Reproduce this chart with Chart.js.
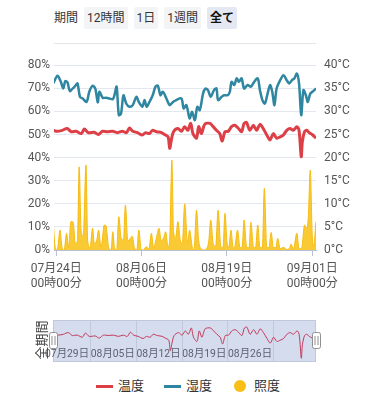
<!DOCTYPE html>
<html lang="ja">
<head>
<meta charset="utf-8">
<script src="https://cdn.jsdelivr.net/npm/chart.js@4.4.1/dist/chart.umd.min.js"></script>
<style>
  body { margin: 0; background: #fff; font-family: Roboto, 'Noto Sans CJK JP', sans-serif; }
  #wrap { position: relative; width: 375px; height: 400px; overflow: hidden; }
  .period { position: absolute; top: 7px; left: 54px; display: flex; font-size: 12px; color: #333; }
  .period span { margin-right: 6px; line-height: 22px; }
  .period .btn { background: #f3f4f6; padding: 0 3px; border-radius: 2px; }
  .period .btn.on { background: #e3e8f3; font-weight: bold; color: #111; }
  .rule { position: absolute; top: 43px; left: 54px; width: 262px; height: 1px; background: #e6e6e6; }
  #main { position: absolute; top: 50px; left: 0; }
  #slider { position: absolute; top: 318px; left: 0; }
  .zname { position: absolute; left: 40px; top: 340px; transform: translate(-50%, -50%) rotate(-90deg);
           font-size: 13px; color: #444; white-space: nowrap; }
  .lg { position: absolute; font-size: 13px; color: #333; line-height: 16px; top: 378px; }
  .mark { position: absolute; }
</style>
</head>
<body>
<div id="wrap">
  <div class="period">
    <span>期間</span>
    <span class="btn">12時間</span>
    <span class="btn">1日</span>
    <span class="btn">1週間</span>
    <span class="btn on">全て</span>
  </div>
  <div class="rule"></div>
  <canvas id="main" width="375" height="250"></canvas>
  <canvas id="slider" width="375" height="46"></canvas>
  <div class="zname">全期間</div>

  <div class="mark" style="left:96px;top:385px;width:17px;height:3px;background:#dd3f46"></div>
  <div class="lg" style="left:118px">温度</div>
  <div class="mark" style="left:164px;top:385px;width:17px;height:3px;background:#2f86a0"></div>
  <div class="lg" style="left:186px">湿度</div>
  <div class="mark" style="left:234px;top:380px;width:12px;height:12px;border-radius:50%;background:#f9bf16"></div>
  <div class="lg" style="left:254px">照度</div>
</div>

<script>
// hours counted from 07/24 00:00
const humidityHours = [-11,5,17,26,33,41,50,60,70,78,87,97,111,121,133,143,152,158,170,182,195,207,213,221,229,237,246,256,268,280,293,302,315,323,331,341,353,363,372,381,390,403,415,427,439,458,466,476,488,497,507,516,525,537,546,555,565,577,586,592,605,614,627,635,641,651,660,668,678,687,700,712,724,737,745,754,763,773,782,790,798,806,819,831,843,852,862,871,880,888,896,904,913,920,929,937,950];
const humidityValues = [72.1,75.4,72.8,69.9,73.1,72.6,68.8,69.9,71.1,72.1,66.3,65.6,64.1,68.5,71.1,69.9,63.9,68.5,65.9,65.9,65.6,65.3,67,70.7,58.4,59,67,63.4,62,62.7,66.3,64.1,62,64.9,62,64.1,67,70.7,71.1,67,68.5,65.6,62.7,64.1,64.9,65.6,61.3,62.7,57,59.8,56.2,62,60.5,67.7,69.9,69.2,66.3,69.2,69.9,64.9,66.3,67,67,68.5,72.8,71.4,74.3,72.8,74.3,69.9,71.4,70.7,72.8,74.3,69.2,64.9,63.4,67.7,71.4,68.5,62.7,69.9,73.5,75.7,73.5,72.1,73.5,74.3,76.4,72.1,58.4,69.2,67,64.1,67.7,68.5,69.9];

const tempHours = [-11,4,22,40,55,73,92,103,117,139,154,169,187,206,224,242,257,268,280,297,315,327,341,352,367,385,396,409,415,421,429,445,458,470,481,492,500,513,521,531,543,562,574,586,598,607,617,629,641,653,665,678,687,696,708,721,733,745,757,770,782,794,806,819,831,843,855,867,880,888,896,900,908,916,925,936,950];
const tempValues = [25.9,25.7,25.9,26.3,25.6,25.7,25.2,26.2,25.4,25.5,25.0,25.7,25.6,25.7,25.4,25.7,25.4,26.4,25.7,25.4,24.9,25.4,25.2,25.9,25.6,25.4,25.0,24.5,22.0,23.8,25.6,26.3,25.7,26.7,25.9,27.4,25.2,24.2,26.7,25.2,27.2,27.4,26.7,25.9,25.2,23.6,25.6,25.7,26.7,27.0,26.4,25.6,27.4,27.6,25.9,27.0,25.9,27.2,26.3,24.9,23.8,25.2,24.2,24.5,24.9,25.9,26.3,25.9,26.7,25.9,20.2,23.4,25.6,25.9,25.4,25.0,24.2];

const lightHours = [-11,-4,4,14,21,29,38,45,54,62,70,78,84,91,99,109,115,124,133,139,148,155,164,176,182,192,201,207,213,221,229,237,246,253,262,271,278,286,295,302,311,319,329,339,348,356,366,376,384,393,400,409,415,423,429,437,445,454,461,470,480,488,497,504,513,521,531,541,549,558,565,574,583,592,602,610,617,625,631,639,647,653,663,672,680,687,696,705,712,721,729,737,745,754,761,770,778,786,794,803,810,819,827,834,843,852,859,867,880,888,898,908,916,922,929,936,941,950];
const lightValues = [12.7,1.4,0,8.6,1.4,0,7.2,1,12.3,12,2.9,4,36,8.6,6,36.8,4,1,9.4,2.9,4,8.6,1,10.8,10.5,1,0,7.9,1,0,14.4,5.4,4.3,19.5,4,5,6,1,0,8.6,0.2,0,1.4,0.5,7.2,1,5,9.4,4,5.2,7.9,1.4,4,38.9,7.9,5.4,12.3,4,2.9,20,3,8.6,1.5,0,17.3,4,0.5,0,0.5,4,13,2.9,1.5,17.3,1.5,1,15.9,2.9,1,8.6,1,1.5,8.6,1,1.5,13,1.5,1,12,1.5,1,10.8,1,1,26.7,1,1,7.6,1,1,5,0.5,1,1,0.2,0.5,2.5,0.2,7.2,0.5,1,10.8,9.4,14.4,34.6,7.2,1.5,12.3];

const xTickHours = [0, 312, 624, 936];
const xTickDates = ['07月24日', '08月06日', '08月19日', '09月01日'];
const xTickTimes = ['00時00分', '00時00分', '00時00分', '00時00分'];

const sliderTickHours = [120, 288, 456, 624, 792];
const sliderTickLabels = ['07月29日', '08月05日', '08月12日', '08月19日', '08月26日'];

const FONT = "Roboto, 'Noto Sans CJK JP', sans-serif";
const toPoints = (xs, ys) => xs.map((h, i) => ({ x: h, y: ys[i] }));

new Chart(document.getElementById('main'), {
  type: 'line',
  data: {
    datasets: [
      {
        label: '温度',
        data: toPoints(tempHours, tempValues),
        yAxisID: 'yR',
        borderColor: '#dd3f46',
        borderWidth: 3,
        pointRadius: 0,
        tension: 0.3
      },
      {
        label: '湿度',
        data: toPoints(humidityHours, humidityValues),
        yAxisID: 'yL',
        borderColor: '#2f86a0',
        borderWidth: 2.5,
        pointRadius: 0,
        tension: 0.3
      },
      {
        label: '照度',
        data: toPoints(lightHours, lightValues),
        yAxisID: 'yL',
        borderColor: '#f6bb10',
        backgroundColor: 'rgba(249,196,30,0.9)',
        borderWidth: 1,
        pointRadius: 0,
        fill: 'origin',
        cubicInterpolationMode: 'monotone'
      }
    ]
  },
  options: {
    responsive: false,
    animation: false,
    layout: { padding: { top: 15 } },
    plugins: { legend: { display: false }, tooltip: { enabled: false } },
    scales: {
      x: {
        type: 'linear',
        min: -8,
        max: 950,
        afterFit: s => { s.height = 50; },
        afterBuildTicks: s => { s.ticks = xTickHours.map(v => ({ value: v })); },
        grid: { drawOnChartArea: false, tickLength: 6, color: '#b8c1d3' },
        border: { color: '#b8c1d3' },
        ticks: {
          autoSkip: false,
          maxRotation: 0,
          padding: 6,
          color: '#555',
          font: { family: FONT, size: 12 },
          callback: v => {
            const i = xTickHours.indexOf(v);
            return i < 0 ? '' : [xTickDates[i], xTickTimes[i]];
          }
        }
      },
      yL: {
        position: 'left',
        min: 0,
        max: 80,
        afterFit: s => { s.width = 54; },
        grid: { color: '#e3e7ef', drawTicks: false },
        border: { display: false },
        ticks: {
          stepSize: 10,
          padding: 4,
          color: '#555',
          font: { family: FONT, size: 12 },
          callback: v => v + '%'
        }
      },
      yR: {
        position: 'right',
        min: 0,
        max: 40,
        afterFit: s => { s.width = 59; },
        grid: { drawOnChartArea: false, drawTicks: false },
        border: { display: false },
        ticks: {
          stepSize: 5,
          padding: 8,
          color: '#555',
          font: { family: FONT, size: 12 },
          callback: v => v + '°C'
        }
      }
    }
  }
});

const sliderDecor = {
  id: 'sliderDecor',
  beforeDatasetsDraw(chart) {
    const { ctx, chartArea: a, scales: { x } } = chart;
    ctx.save();
    ctx.fillStyle = '#d5dcee';
    ctx.fillRect(a.left, a.top, a.right - a.left, a.bottom - a.top);
    ctx.strokeStyle = '#bfc8dc';
    ctx.lineWidth = 1;
    sliderTickHours.forEach(h => {
      const px = Math.round(x.getPixelForValue(h)) + 0.5;
      ctx.beginPath();
      ctx.moveTo(px, a.top);
      ctx.lineTo(px, a.bottom);
      ctx.stroke();
    });
    ctx.strokeRect(a.left + 0.5, a.top + 0.5, a.right - a.left - 1, a.bottom - a.top - 1);
    ctx.restore();
  },
  afterDatasetsDraw(chart) {
    const { ctx, chartArea: a, scales: { x } } = chart;
    ctx.save();
    ctx.font = '11px ' + FONT;
    ctx.fillStyle = '#5e6270';
    ctx.textAlign = 'right';
    ctx.textBaseline = 'middle';
    sliderTickHours.forEach((h, i) => {
      ctx.fillText(sliderTickLabels[i], x.getPixelForValue(h) - 1, a.bottom - 8, 44);
    });
    [a.left, a.right].forEach(cx => {
      const w = 8, hgt = 16, top = (a.top + a.bottom) / 2 - hgt / 2 - 1;
      ctx.fillStyle = '#fff';
      ctx.strokeStyle = '#8f8f8f';
      ctx.beginPath();
      ctx.roundRect(cx - w / 2 + 0.5, top + 0.5, w, hgt, 2);
      ctx.fill();
      ctx.stroke();
      ctx.beginPath();
      ctx.moveTo(cx - 1, top + 4); ctx.lineTo(cx - 1, top + hgt - 3);
      ctx.moveTo(cx + 2, top + 4); ctx.lineTo(cx + 2, top + hgt - 3);
      ctx.stroke();
    });
    ctx.restore();
  }
};

new Chart(document.getElementById('slider'), {
  type: 'line',
  data: {
    datasets: [{
      data: toPoints(tempHours, tempValues),
      borderColor: '#c23a5a',
      borderWidth: 1,
      pointRadius: 0,
      tension: 0.3
    }]
  },
  options: {
    responsive: false,
    animation: false,
    layout: { padding: { left: 53, right: 59, top: 2, bottom: 2 } },
    plugins: { legend: { display: false }, tooltip: { enabled: false } },
    scales: {
      x: { type: 'linear', min: -16, max: 950, display: false },
      y: { min: 19.3, max: 29.3, display: false }
    }
  },
  plugins: [sliderDecor]
});
</script>
</body>
</html>
